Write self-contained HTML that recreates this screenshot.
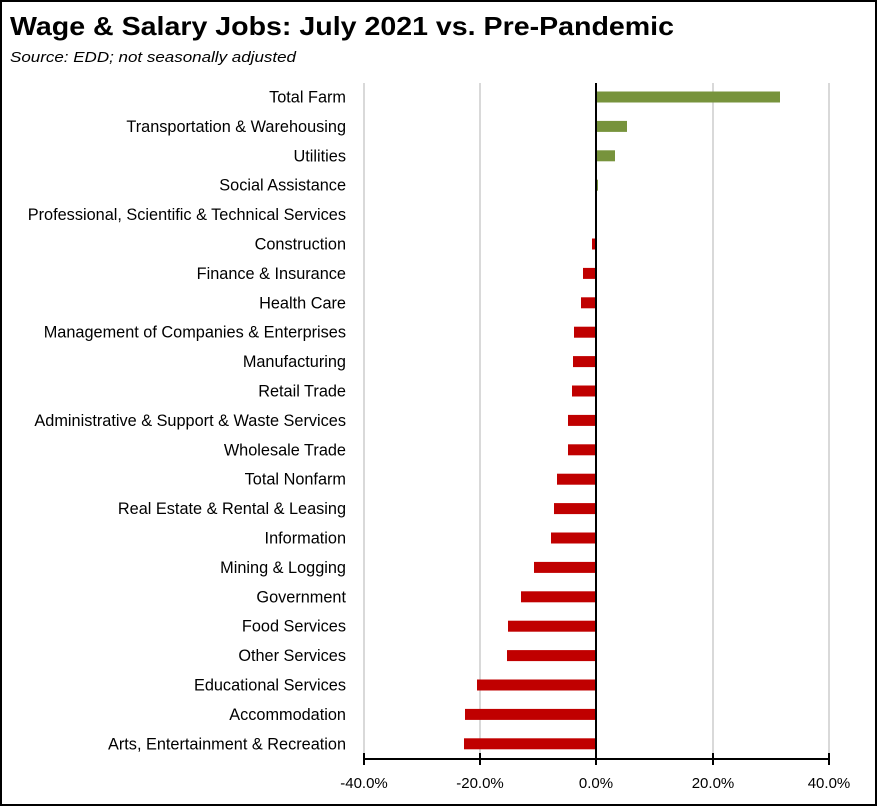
<!DOCTYPE html>
<html><head><meta charset="utf-8"><style>
body{margin:0;background:#fff}
svg{display:block}
text{font-family:"Liberation Sans",sans-serif}
</style></head><body>
<svg width="877" height="806" xmlns="http://www.w3.org/2000/svg">
<rect x="1" y="1" width="875" height="804" fill="#fff" stroke="#000" stroke-width="2"/>
<text x="10" y="35" font-size="26" font-weight="bold" textLength="664" lengthAdjust="spacingAndGlyphs">Wage &amp; Salary Jobs:  July 2021 vs. Pre-Pandemic</text>
<text x="10" y="62" font-size="15" font-style="italic" textLength="286" lengthAdjust="spacingAndGlyphs">Source:  EDD; not seasonally adjusted</text>
<g stroke="#d9d9d9" stroke-width="2">
<line x1="364" y1="83" x2="364" y2="758"/>
<line x1="480" y1="83" x2="480" y2="758"/>
<line x1="713" y1="83" x2="713" y2="758"/>
<line x1="829" y1="83" x2="829" y2="758"/>
</g>
<g id="bars"></g>
<line x1="596" y1="83" x2="596" y2="759" stroke="#000" stroke-width="2"/>
<line x1="363" y1="759" x2="830" y2="759" stroke="#000" stroke-width="2"/>
<g stroke="#000" stroke-width="2">
<line x1="364" y1="753" x2="364" y2="765"/><line x1="480" y1="753" x2="480" y2="765"/>
<line x1="596" y1="753" x2="596" y2="765"/><line x1="713" y1="753" x2="713" y2="765"/>
<line x1="829" y1="753" x2="829" y2="765"/>
</g>
<g font-size="15" text-anchor="middle">
<text x="364" y="788">-40.0%</text><text x="480" y="788">-20.0%</text>
<text x="596" y="788">0.0%</text><text x="713" y="788">20.0%</text><text x="829" y="788">40.0%</text>
</g>
<g font-size="16.3" text-anchor="end" id="labels"></g>
<script>
var d=[["Total Farm",780],["Transportation & Warehousing",627],["Utilities",615],["Social Assistance",598],["Professional, Scientific & Technical Services",596],["Construction",592],["Finance & Insurance",583],["Health Care",581],["Management of Companies & Enterprises",574],["Manufacturing",573],["Retail Trade",572],["Administrative & Support & Waste Services",568],["Wholesale Trade",568],["Total Nonfarm",557],["Real Estate & Rental & Leasing",554],["Information",551],["Mining & Logging",534],["Government",521],["Food Services",508],["Other Services",507],["Educational Services",477],["Accommodation",465],["Arts, Entertainment & Recreation",464]];
var ns="http://www.w3.org/2000/svg",b=document.getElementById("bars"),l=document.getElementById("labels");
d.forEach(function(r,i){var y=97+i*29.4;
var t=document.createElementNS(ns,"text");t.setAttribute("x",346);t.setAttribute("y",y+5.5);t.textContent=r[0];l.appendChild(t);
if(r[1]!=596){var x=Math.min(596,r[1]),w=Math.abs(r[1]-596);var re=document.createElementNS(ns,"rect");re.setAttribute("x",x);re.setAttribute("y",y-5.5);re.setAttribute("width",w);re.setAttribute("height",11);re.setAttribute("fill",r[1]>596?"#77933C":"#C00000");b.appendChild(re);}
});
</script>
</svg>
</body></html>
